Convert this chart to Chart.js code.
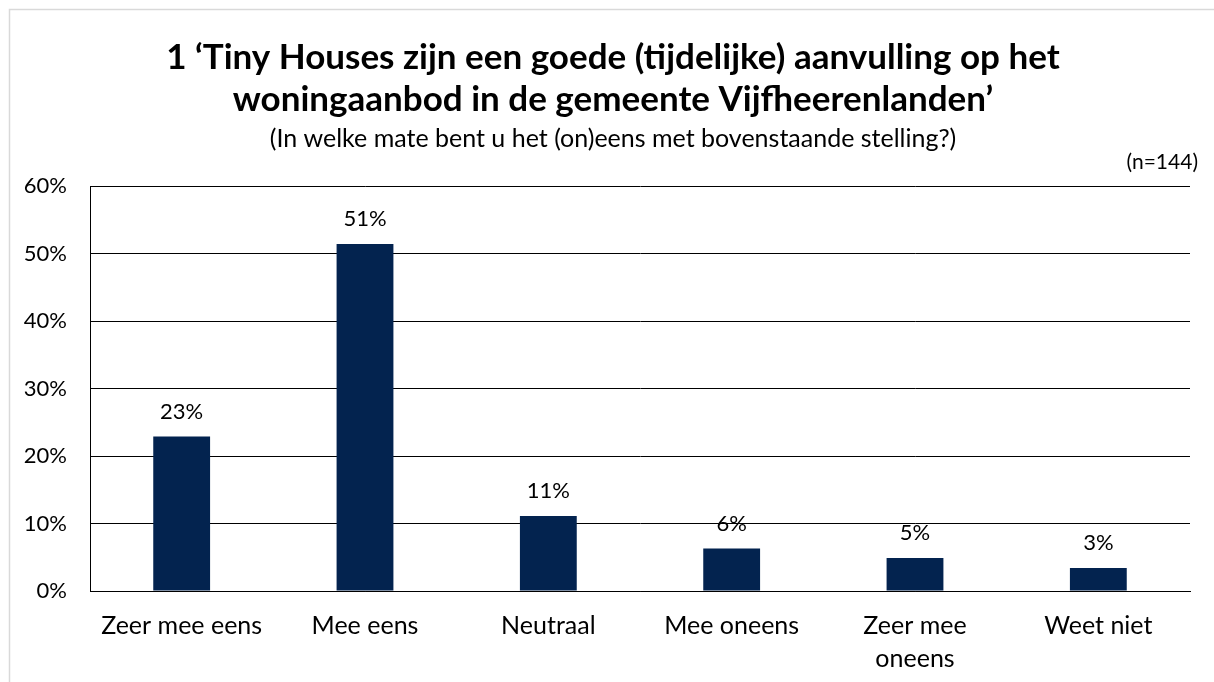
<!DOCTYPE html>
<html>
<head>
<meta charset="utf-8">
<script src="https://cdn.jsdelivr.net/npm/chart.js@4"></script>
<style>
  html, body { margin: 0; padding: 0; background: #fff; }
  #wrap { position: relative; width: 1214px; height: 682px; }
</style>
</head>
<body>
<div id="wrap"><canvas id="chart"></canvas></div>
<script>
// ==================================================
// DATA
// ==================================================
const categories = [
  "Zeer mee eens",
  "Mee eens",
  "Neutraal",
  "Mee oneens",
  ["Zeer mee", "oneens"],
  "Weet niet",
];
const percentages = [22.9, 51.4, 11.1, 6.3, 4.9, 3.4];
const yTicks = [0, 10, 20, 30, 40, 50, 60];
const titleLines = [
  "1 \u2018Tiny Houses zijn een goede (tijdelijke) aanvulling op het",
  "woningaanbod in de gemeente Vijfheerenlanden\u2019",
];
const subtitleText = "(In welke mate bent u het (on)eens met bovenstaande stelling?)";
const sampleText = "(n=144)";

const FONT = "Lato, 'Open Sans', sans-serif";
const NAVY = "#03234f";

// ==================================================
// PLUGINS
// ==================================================
// white background, grey frame, (n=144) and value labels
const extras = {
  id: "extras",
  beforeDraw(chart) {
    const ctx = chart.ctx;
    ctx.save();
    ctx.fillStyle = "#fff";
    ctx.fillRect(0, 0, chart.width, chart.height);
    ctx.strokeStyle = "#d9d9d9";
    ctx.lineWidth = 1.5;
    ctx.beginPath();
    ctx.moveTo(9.5, chart.height + 5);
    ctx.lineTo(9.5, 9.5);
    ctx.lineTo(chart.width + 5, 9.5);
    ctx.stroke();
    ctx.restore();
  },
  afterDatasetsDraw(chart) {
    const ctx = chart.ctx;
    const area = chart.chartArea;
    ctx.save();
    ctx.fillStyle = "#000";
    ctx.font = `22px ${FONT}`;
    ctx.textAlign = "center";
    ctx.textBaseline = "middle";
    const meta = chart.getDatasetMeta(0);
    meta.data.forEach((bar, i) => {
      ctx.fillText(Math.round(percentages[i]) + "%", bar.x, bar.y - 25);
    });
    ctx.font = `21px ${FONT}`;
    ctx.textAlign = "right";
    ctx.fillText(sampleText, area.right + 8, area.top - 24);
    ctx.restore();
  },
};

// ==================================================
// CHART
// ==================================================
const ctx = document.getElementById("chart").getContext("2d");
ctx.canvas.width = 1214;
ctx.canvas.height = 682;

const myChart = new Chart(ctx, {
  type: "bar",
  data: {
    labels: categories,
    datasets: [
      {
        data: percentages,
        backgroundColor: NAVY,
        borderWidth: 0,
        barPercentage: 0.31,
        categoryPercentage: 1,
      },
    ],
  },
  options: {
    responsive: false,
    animation: false,
    // padding chosen so the titles centre near x=613
    layout: { padding: { left: 12, right: 0, top: 37, bottom: 0 } },
    plugins: {
      legend: { display: false },
      tooltip: { enabled: false },
      title: {
        display: true,
        text: titleLines,
        color: "#000",
        font: { family: FONT, size: 35, weight: "bold", lineHeight: 1.2 },
        padding: { top: 0, bottom: 0 },
      },
      subtitle: {
        display: true,
        text: subtitleText,
        color: "#000",
        font: { family: FONT, size: 25, lineHeight: 1.2 },
        padding: { top: 3, bottom: 32 },
      },
    },
    scales: {
      x: {
        grid: { display: false, drawTicks: false },
        border: { display: true, color: "#000", width: 1 },
        ticks: {
          color: "#000",
          font: { family: FONT, size: 25, lineHeight: 1.3 },
          padding: 19,
          maxRotation: 0,
          autoSkip: false,
        },
        afterFit: (scale) => {
          scale.height = 91;
        },
      },
      y: {
        min: 0,
        max: 60,
        afterBuildTicks: (scale) => {
          scale.ticks = yTicks.map((v) => ({ value: v }));
        },
        grid: { color: "#000", lineWidth: 1, drawTicks: false },
        border: { display: true, color: "#000", width: 1 },
        ticks: {
          color: "#000",
          font: { family: FONT, size: 22 },
          padding: 23,
          callback: (value) => value + "%",
        },
        afterFit: (scale) => {
          scale.width = 78;
        },
      },
      // empty right-hand spacer so the plot ends at x=1190
      spacer: {
        position: "right",
        grid: { display: false, drawTicks: false },
        border: { display: false },
        ticks: { display: false },
        afterFit: (scale) => {
          scale.width = 24;
        },
      },
    },
  },
  plugins: [extras],
});
</script>
</body>
</html>
